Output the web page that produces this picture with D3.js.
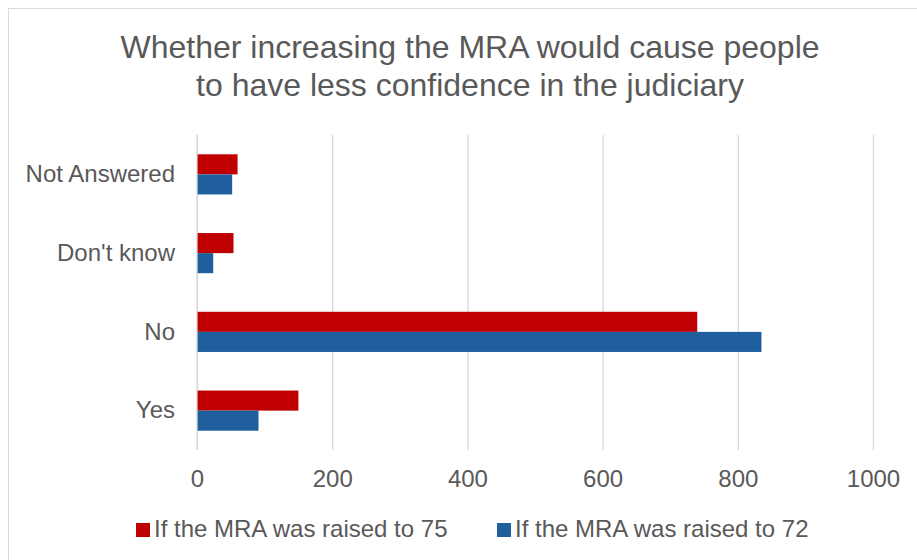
<!DOCTYPE html>
<html>
<head>
<meta charset="utf-8">
<script src="https://cdn.jsdelivr.net/npm/d3@7"></script>
<style>
  body { margin: 0; background: #fff; }
  text { font-family: "Liberation Sans", Arial, sans-serif; fill: #595959; }
</style>
</head>
<body>
<div id="chart"></div>
<script>
// data
var categories = ["Not Answered", "Don't know", "No", "Yes"];
var seriesNames = ["If the MRA was raised to 75", "If the MRA was raised to 72"];
var raised75 = [60, 54, 740, 150];
var raised72 = [52, 24, 835, 91];
var xTicks = [0, 200, 400, 600, 800, 1000];
var titleLines = ["Whether increasing the MRA would cause people", "to have less confidence in the judiciary"];

var colors = ["#c00000", "#1f5f9e"];

var W = 917, H = 560;
var margin = {top: 135, right: 44, bottom: 110, left: 197},
    width = W - margin.left - margin.right,
    height = H - margin.top - margin.bottom;

var svgRoot = d3.select("#chart").append("svg")
  .attr("width", W)
  .attr("height", H);

// chart frame (only top and left edges fall inside the picture)
svgRoot.append("rect")
  .attr("x", 8.5).attr("y", 8.5)
  .attr("width", W + 20).attr("height", H + 20)
  .attr("fill", "none")
  .attr("stroke", "#d9d9d9");

// title
svgRoot.append("text")
  .attr("x", 470).attr("y", 58)
  .attr("text-anchor", "middle")
  .style("font-size", "32px")
  .selectAll("tspan")
  .data(titleLines).enter().append("tspan")
  .attr("x", 470)
  .attr("dy", function(d, i) { return i ? 38 : 0; })
  .text(function(d) { return d; });

var svg = svgRoot.append("g")
  .attr("transform", "translate(" + margin.left + "," + margin.top + ")");

var x = d3.scaleLinear().domain([0, 1000]).range([0, width]);

var y = d3.scaleBand().domain(categories).range([0, height]).paddingInner(0.49).paddingOuter(0.245);

var ySub = d3.scaleBand().domain([0, 1]).range([0, y.bandwidth()]);

// gridlines + tick labels
var xAxis = svg.append("g")
  .attr("transform", "translate(0," + height + ")")
  .call(d3.axisBottom(x).tickValues(xTicks).tickFormat(d3.format("d")).tickSize(-height).tickPadding(20));
xAxis.select(".domain").remove();
xAxis.selectAll(".tick line").attr("stroke", "#d9d9d9").attr("stroke-width", 1.3);
xAxis.selectAll(".tick text")
  .style("font-size", "24px")
  .attr("fill", "#595959")
  .style("font-family", "'Liberation Sans', Arial, sans-serif");

// category labels
var yAxis = svg.append("g")
  .call(d3.axisLeft(y).tickSize(0).tickPadding(22));
yAxis.select(".domain").remove();
yAxis.selectAll(".tick text")
  .style("font-size", "24px")
  .attr("fill", "#595959")
  .style("font-family", "'Liberation Sans', Arial, sans-serif");

// bars
var rows = categories.map(function(c, i) { return {cat: c, vals: [raised75[i], raised72[i]]}; });

var groups = svg.selectAll(".grp")
  .data(rows).enter().append("g")
  .attr("class", "grp")
  .attr("transform", function(d) { return "translate(0," + y(d.cat) + ")"; });

groups.selectAll("rect")
  .data(function(d) { return d.vals; })
  .enter().append("rect")
  .attr("x", x(0))
  .attr("y", function(d, i) { return ySub(i); })
  .attr("width", function(d) { return x(d) - x(0); })
  .attr("height", ySub.bandwidth())
  .attr("fill", function(d, i) { return colors[i]; });

// zero line over bars
svg.append("line")
  .attr("x1", x(0)).attr("x2", x(0))
  .attr("y1", 0).attr("y2", height)
  .attr("stroke", "#d9d9d9").attr("stroke-width", 1.3);

// legend
var legendX = [136, 497];
var legend = svgRoot.selectAll(".lg")
  .data(seriesNames).enter().append("g")
  .attr("class", "lg")
  .attr("transform", function(d, i) { return "translate(" + legendX[i] + ",523)"; });
legend.append("rect")
  .attr("width", 14).attr("height", 14)
  .attr("fill", function(d, i) { return colors[i]; });
legend.append("text")
  .attr("x", 18).attr("y", 14)
  .style("font-size", "24px")
  .text(function(d) { return d; });
</script>
</body>
</html>
